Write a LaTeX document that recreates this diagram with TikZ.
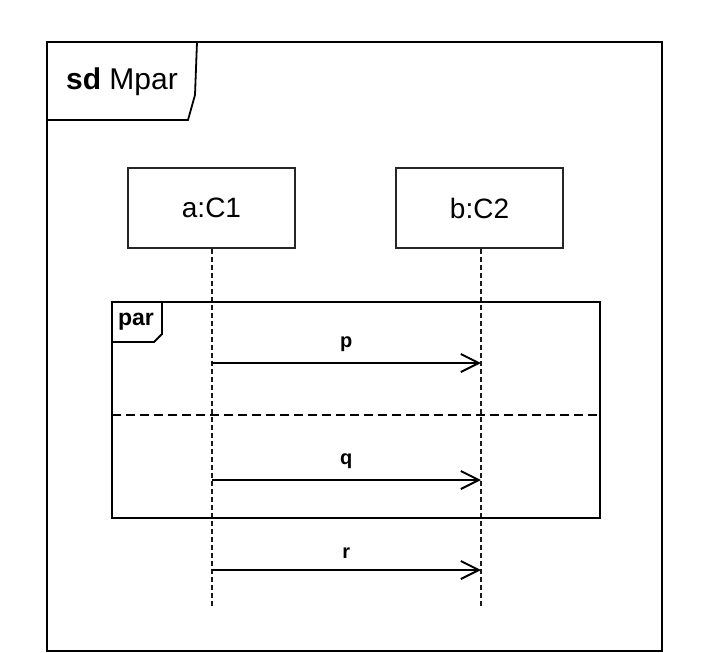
\documentclass[tikz,border=0pt]{standalone}
\usepackage{fontspec}
\setmainfont{Liberation Sans}
\usetikzlibrary{arrows.meta,positioning}
\tikzset{
  objbox/.style={draw=black!85, line width=0.8pt, minimum width=83.5pt, minimum height=40pt,
    font=\fontsize{14}{16}\selectfont},
  lifeline/.style={draw=black!90, line width=1pt, dash pattern=on 2.5pt off 1.5pt},
  msg/.style={line width=1pt, -{Straight Barb[length=9pt,width=9pt,line width=1pt]}},
  msglabel/.style={above=2pt, font=\bfseries\fontsize{10}{12}\selectfont},
}

\begin{document}
\begin{tikzpicture}[x=0.5pt,y=-0.5pt]
    \useasboundingbox[fill=white] (0,0) rectangle (707,653);

    % diagram frame
    \draw[line width=1.3pt] (47,42) rectangle (662,651);
    \draw[line width=0.9pt] (47,120) -- (188,120) -- (195,95) -- (197,42);
    \node (sdlabel) at (122,82) {\fontsize{15}{17}\selectfont\textbf{sd} Mpar};

    % lifelines
    \node[objbox] (objA) at (211.5,208) {a:C1};
    \node[objbox] (objB) at (479.5,208) {b:C2};
    \coordinate (endA) at (211.5,607);
    \coordinate (endB) at (481,607);
    \draw[lifeline] (objA.south) -- (endA);
    \draw[lifeline] (objB.south -| endB) -- (endB);

    % par fragment
    \draw[line width=1.1pt] (112,302) rectangle (600,518);
    \draw[line width=0.9pt] (112,342) -- (154,342) -- (162,334) -- (162,302);
    \node[font=\bfseries\fontsize{11.5}{13}\selectfont] (parlabel) at (136,322) {par};
    \draw[line width=1pt, dash pattern=on 4.5pt off 2.5pt] (112,415) -- (600,415);

    % messages
    \coordinate (pA) at (211.5,363);
    \coordinate (pB) at (481,363);
    \coordinate (qA) at (211.5,480);
    \coordinate (qB) at (481,480);
    \coordinate (rA) at (211.5,570);
    \coordinate (rB) at (481,570);
    \draw[msg] (pA) -- node[msglabel] {p} (pB);
    \draw[msg] (qA) -- node[msglabel] {q} (qB);
    \draw[msg] (rA) -- node[msglabel] {r} (rB);
\end{tikzpicture}
\end{document}
